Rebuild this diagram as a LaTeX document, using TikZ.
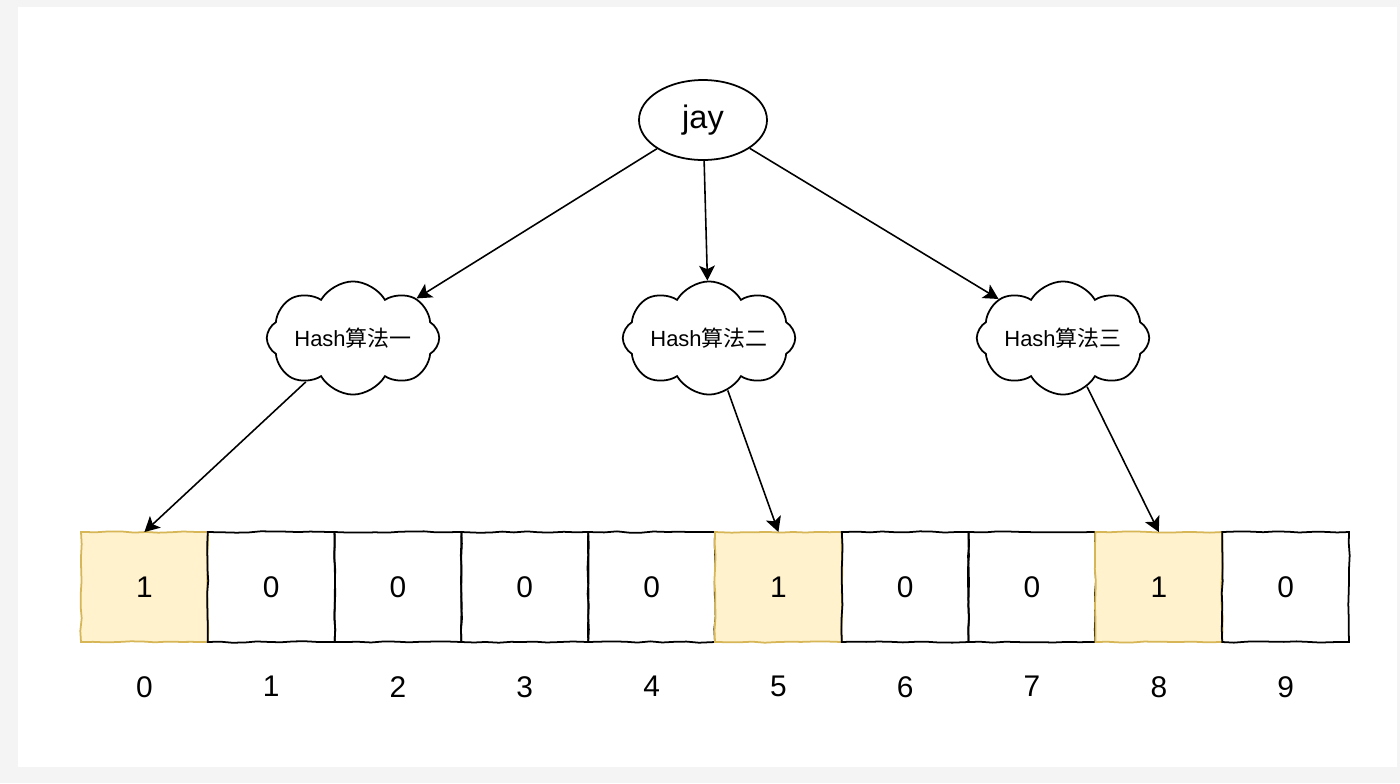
\documentclass[tikz,border=0pt]{standalone}
\usepackage{fontspec}
\setmainfont{Liberation Sans}
\newfontfamily\cjk{Noto Sans CJK SC}
\usepackage{tikz}
\usetikzlibrary{arrows.meta,positioning,shapes.geometric,shapes.symbols,decorations.pathmorphing}
\definecolor{pagegray}{HTML}{F4F4F4}
\definecolor{hitfill}{HTML}{FFF2CC}
\definecolor{hitline}{HTML}{D6B656}

\begin{document}
\begin{tikzpicture}[
    key/.style={draw, ellipse, line width=1pt, minimum width=2.56cm, minimum height=1.6cm, inner sep=0pt, font=\fontsize{18.5}{20}\selectfont},
    hashfn/.style={draw, cloud, cloud puffs=8, cloud puff arc=120, aspect=2, line width=1pt, minimum width=3.45cm, minimum height=1.65cm, inner sep=0pt, font=\fontsize{12.5}{14}\selectfont},
    cell/.style={draw, line width=1pt, minimum width=2.536cm, minimum height=2.2cm, inner sep=0pt, outer sep=0pt, font=\fontsize{17}{19}\selectfont,
        decorate, decoration={random steps, segment length=7pt, amplitude=0.4pt}},
    hit/.style={cell, fill=hitfill, draw=hitline},
    idx/.style={font=\fontsize{17}{19}\selectfont, inner sep=0pt},
    arrow/.style={-{Stealth[length=8.5pt, width=9pt, inset=2pt]}, line width=0.9pt}
]
    \pgfmathsetseed{7}
    % page
    \fill[pagegray] (0,0) rectangle (28,-15.66);
    \fill[white] (0.36,-0.14) rectangle (27.94,-15.34);

    \node[key] (jay) at (14.06,-2.40) {jay};

    \node[hashfn] (h1) at (7.06,-6.76) {Hash{\cjk 算法一}};
    \node[hashfn] (h2) at (14.18,-6.76) {Hash{\cjk 算法二}};
    \node[hashfn] (h3) at (21.26,-6.76) {Hash{\cjk 算法三}};

    % bit array
    \node[hit] (c0) at (2.888,-11.74) {1};
    \node[cell, right=0pt of c0] (c1) {0};
    \node[cell, right=0pt of c1] (c2) {0};
    \node[cell, right=0pt of c2] (c3) {0};
    \node[cell, right=0pt of c3] (c4) {0};
    \node[hit, right=0pt of c4] (c5) {1};
    \node[cell, right=0pt of c5] (c6) {0};
    \node[cell, right=0pt of c6] (c7) {0};
    \node[hit, right=0pt of c7] (c8) {1};
    \node[cell, right=0pt of c8] (c9) {0};

    \foreach \i in {0,...,9}
        \node[idx, below=0.68cm of c\i] (n\i) {\i};

    \draw[arrow] (jay) -- (h1);
    \draw[arrow] (jay) -- (h2);
    \draw[arrow] (jay) -- (h3);
    \draw[arrow] (h1) -- (c0.north);
    \draw[arrow] (h2) -- (c5.north);
    \draw[arrow] (h3) -- (c8.north);
\end{tikzpicture}
\end{document}
